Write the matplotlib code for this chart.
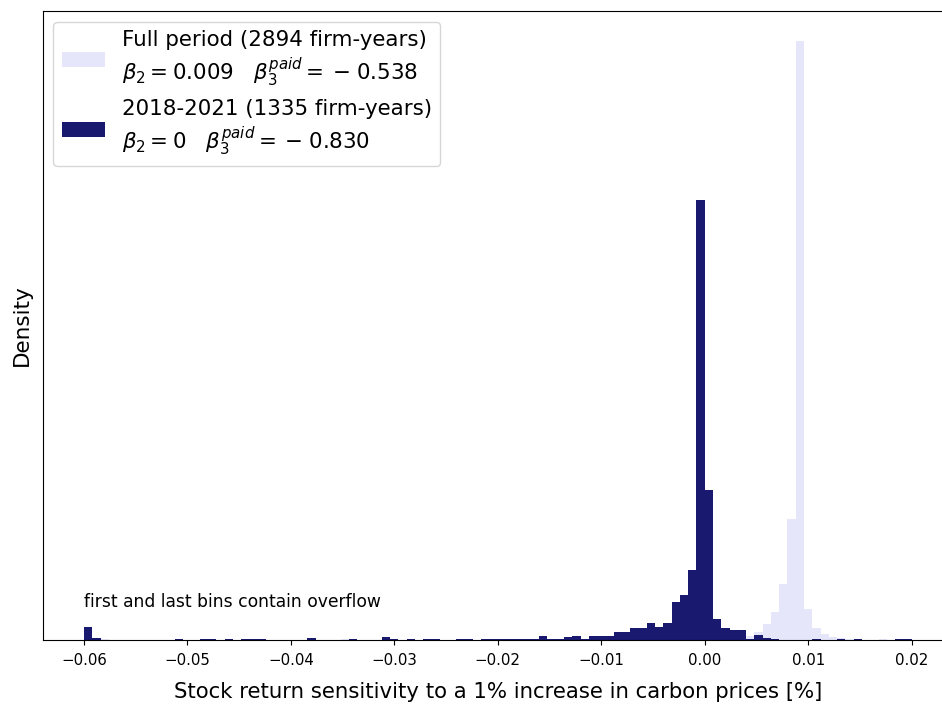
import numpy as np
import matplotlib
matplotlib.use("Agg")
import matplotlib.pyplot as plt

# 100 bins between -0.06 and 0.02 (first and last bins contain overflow)
bin_lo, bin_hi, n_bins = -0.06, 0.02, 100

# 2018-2021 sample: firm-year counts per bin (1335 firm-years)
recent_counts = [
    18, 3, 0, 0, 0, 0, 0, 0, 0, 0,
    0, 2, 0, 0, 2, 2, 0, 2, 0, 2,
    2, 2, 0, 0, 0, 0, 0, 3, 0, 0,
    0, 0, 2, 0, 0, 0, 4, 2, 0, 2,
    0, 2, 2, 0, 0, 2, 2, 0, 2, 2,
    2, 2, 2, 2, 2, 6, 1, 1, 4, 6,
    1, 6, 6, 6, 11, 11, 16, 16, 23, 18,
    23, 52, 61, 96, 603, 205, 29, 16, 14, 14,
    2, 7, 3, 1, 0, 0, 0, 0, 2, 0,
    0, 2, 0, 2, 0, 0, 0, 0, 2, 2,
]

# Full period sample: firm-year counts per bin (2894 firm-years)
full_counts = [
    0, 0, 3, 0, 0, 0, 0, 0, 0, 0,
    0, 0, 0, 0, 0, 0, 0, 0, 0, 0,
    0, 0, 0, 0, 0, 0, 0, 0, 0, 0,
    0, 2, 0, 0, 0, 0, 0, 0, 0, 0,
    0, 0, 0, 0, 0, 0, 0, 0, 0, 0,
    0, 0, 0, 0, 0, 0, 0, 0, 0, 0,
    0, 0, 0, 0, 0, 0, 0, 3, 4, 5,
    8, 14, 20, 35, 60, 40, 15, 12, 15, 20,
    13, 24, 47, 82, 166, 359, 1775, 93, 37, 19,
    10, 5, 3, 2, 0, 0, 3, 0, 0, 0,
]

full_label = "Full period (2894 firm-years)\n$\\beta_2=0.009$   $\\beta_3^{paid}=\\:-\\;0.538$"
recent_label = "2018-2021 (1335 firm-years)\n$\\beta_2=0$   $\\beta_3^{paid}=\\:-\\;0.830$"
xlabel = "Stock return sensitivity to a 1% increase in carbon prices [%]"
ylabel = "Density"
note = "first and last bins contain overflow"

edges = np.linspace(bin_lo, bin_hi, n_bins + 1)
width = edges[1] - edges[0]
full_c = np.array(full_counts, dtype=float)
rec_c = np.array(recent_counts, dtype=float)
full_d = full_c / (full_c.sum() * width)
rec_d = rec_c / (rec_c.sum() * width)

fig = plt.figure(figsize=(9.42, 7.04), dpi=100)
ax = fig.add_axes([0.0452, 0.0909, 0.9665, 0.8935])

ax.hist(edges[:-1], bins=edges, weights=full_d, color="lavender", label=full_label)
ax.hist(edges[:-1], bins=edges, weights=rec_d, color="midnightblue", label=recent_label)

ax.set_yticks([])
ax.tick_params(axis="x", labelsize=10.8, pad=5.5)
ax.set_xlabel(xlabel, fontsize=15.3, labelpad=10.5)
ax.set_ylabel(ylabel, fontsize=15.5, labelpad=7.5)
ax.text(bin_lo, 42, note, fontsize=12.3, va="baseline", ha="left")
ax.legend(loc="upper left", fontsize=15.4)

fig.savefig("out.png", dpi=100)
